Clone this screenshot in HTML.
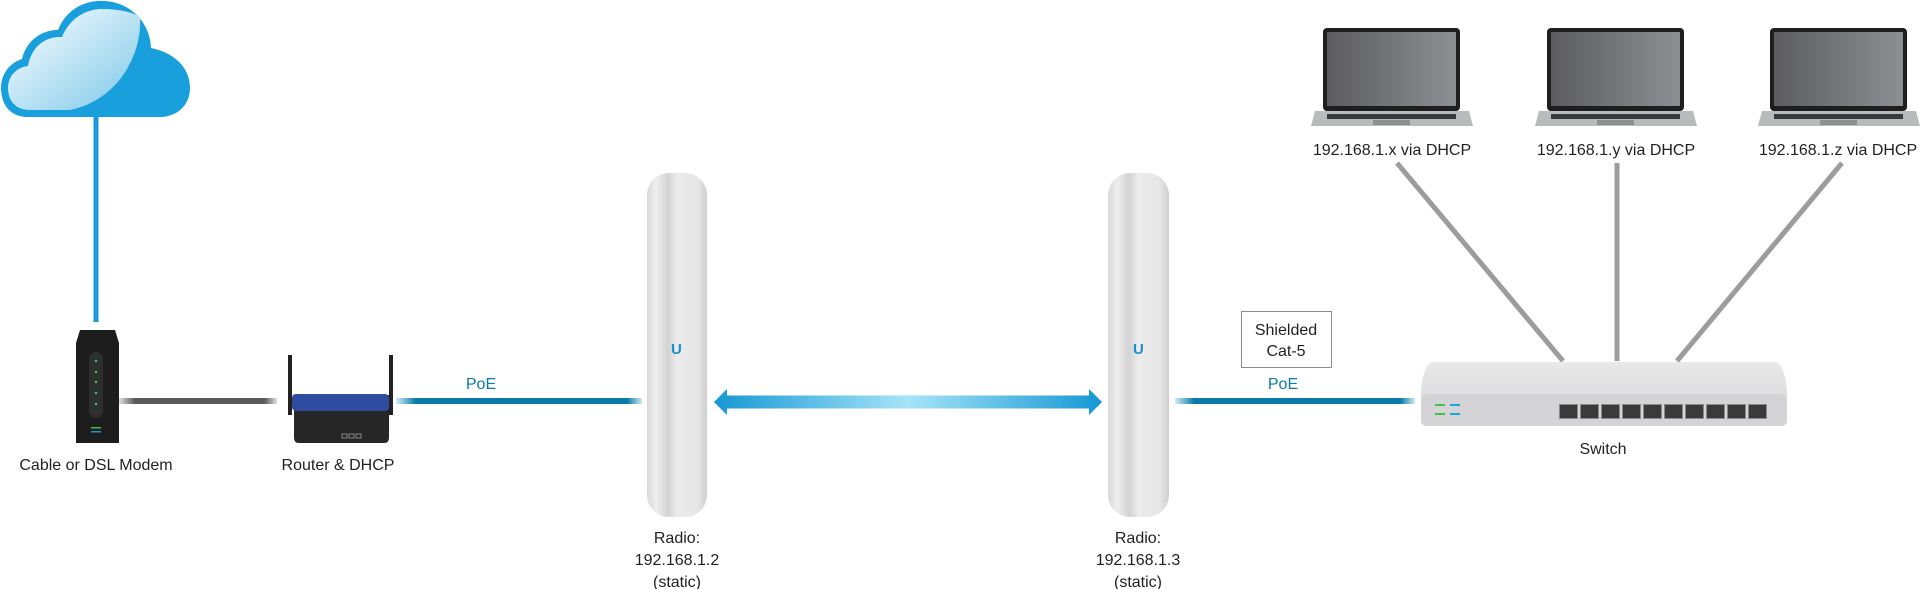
<!DOCTYPE html>
<html><head><meta charset="utf-8"><style>
html,body{margin:0;padding:0;background:#fff;}
svg{display:block;}
text{font-family:"Liberation Sans",sans-serif;font-size:16px;fill:#231f20;}
</style></head><body>
<svg width="1929" height="589" viewBox="0 0 1929 589" xmlns="http://www.w3.org/2000/svg">
<defs>
<linearGradient id="cloudg" x1="0" y1="0" x2="1" y2="1"><stop offset="0" stop-color="#ffffff"/><stop offset="1" stop-color="#7cc8ea"/></linearGradient>
<linearGradient id="arrow" x1="0" x2="1"><stop offset="0" stop-color="#1597d4"/><stop offset="0.5" stop-color="#a6e4f8"/><stop offset="1" stop-color="#1597d4"/></linearGradient>
<linearGradient id="radio" x1="0" x2="1"><stop offset="0" stop-color="#d8d8d8"/><stop offset="0.15" stop-color="#eeeeee"/><stop offset="0.35" stop-color="#d3d3d3"/><stop offset="0.5" stop-color="#ececec"/><stop offset="0.85" stop-color="#e6e6e6"/><stop offset="1" stop-color="#cfcfcf"/></linearGradient>
<linearGradient id="screen" x1="0" x2="1"><stop offset="0" stop-color="#5c5c5e"/><stop offset="1" stop-color="#8c8f92"/></linearGradient>
<linearGradient id="poeL" x1="0" x2="1"><stop offset="0" stop-color="#d6edf5"/><stop offset="0.08" stop-color="#0a7aa8"/><stop offset="0.94" stop-color="#0a7aa8"/><stop offset="1" stop-color="#cfe9f3"/></linearGradient>
<linearGradient id="grayL" x1="0" x2="1"><stop offset="0" stop-color="#e0e0e0"/><stop offset="0.1" stop-color="#5a5a5a"/><stop offset="0.92" stop-color="#5a5a5a"/><stop offset="1" stop-color="#e0e0e0"/></linearGradient>
<linearGradient id="sw" x1="0" y1="0" x2="0" y2="1"><stop offset="0" stop-color="#e9e9ea"/><stop offset="1" stop-color="#d4d4d6"/></linearGradient>
</defs>

<!-- cloud -->
<line x1="96" y1="117" x2="96" y2="322" stroke="#1a9ad8" stroke-width="5"/>
<path d="M28,117 C8,117 1,102 1,88 C1,72 12,62 22,59 C26,42 40,30 58,30 C66,10 84,0 104,1 C130,2 150,22 151,48 C172,52 190,66 190,88 C190,106 176,117 160,117 Z" fill="#19a0dc"/>
<path d="M30,110 C15,110 8,100 8,88 C8,75 18,67 28,66 C31,48 44,36 62,37 C70,18 86,9 102,9 C116,9 136,12 140,18 C142,55 118,100 70,110 Z" fill="url(#cloudg)"/>

<!-- modem -->
<rect x="119" y="398" width="158" height="6" fill="url(#grayL)"/>
<path d="M80,330 L115,330 L119,343 L119,443 L76,443 L76,343 Z" fill="#1d1d1d"/>
<rect x="89" y="352" width="14" height="66" rx="7" fill="#2e2e2e"/>
<g fill="#3ec04a"><circle cx="96" cy="361" r="1.3"/><circle cx="96" cy="372" r="1.3"/><circle cx="96" cy="382" r="1.3"/><circle cx="96" cy="393" r="1.3"/><circle cx="96" cy="404" r="1.3"/></g>
<rect x="91" y="427" width="10" height="1.5" fill="#3ec04a"/><rect x="91" y="431" width="10" height="1.5" fill="#1a9ad8"/>
<text x="96" y="470" text-anchor="middle">Cable or DSL Modem</text>

<!-- router -->
<rect x="396" y="398" width="246" height="6" fill="url(#poeL)"/>
<rect x="288" y="355" width="4" height="60" fill="#222"/><rect x="389" y="355" width="4" height="60" fill="#222"/>
<path d="M294,395 L389,395 L389,438 Q389,443 384,443 L299,443 Q294,443 294,438 Z" fill="#262626"/>
<rect x="292" y="394" width="97" height="17" rx="4" fill="#2f4ca0"/>
<g fill="none" stroke="#888" stroke-width="1"><rect x="342" y="434" width="5" height="4"/><rect x="349" y="434" width="5" height="4"/><rect x="356" y="434" width="5" height="4"/></g>
<text x="338" y="470" text-anchor="middle">Router &amp; DHCP</text>
<text x="481" y="389" text-anchor="middle" style="fill:#0a7aa8">PoE</text>

<!-- radios -->
<rect x="647" y="173" width="60" height="344" rx="22" fill="url(#radio)"/>
<text x="671" y="354" style="font-size:15px;font-weight:bold;fill:#1a8fd0">U</text>
<rect x="1108" y="173" width="61" height="344" rx="22" fill="url(#radio)"/>
<text x="1133" y="354" style="font-size:15px;font-weight:bold;fill:#1a8fd0">U</text>
<g text-anchor="middle">
<text x="677" y="543">Radio:</text><text x="677" y="565">192.168.1.2</text><text x="677" y="587">(static)</text>
<text x="1138" y="543">Radio:</text><text x="1138" y="565">192.168.1.3</text><text x="1138" y="587">(static)</text>
</g>

<!-- arrow -->
<path d="M714,402 L727,389 L727,395.5 L1089,395.5 L1089,389 L1102,402 L1089,415 L1089,408.5 L727,408.5 L727,415 Z" fill="url(#arrow)"/>

<!-- right PoE -->
<rect x="1175" y="398" width="240" height="6" fill="url(#poeL)"/>
<rect x="1241.5" y="311.5" width="90" height="56" fill="#fff" stroke="#8a8a8a" stroke-width="1"/>
<text x="1286" y="335" text-anchor="middle">Shielded</text>
<text x="1286" y="356" text-anchor="middle">Cat-5</text>
<text x="1283" y="389" text-anchor="middle" style="fill:#0a7aa8">PoE</text>

<!-- laptop lines -->
<g stroke="#9c9c9c" stroke-width="5">
<line x1="1397" y1="163" x2="1563" y2="361"/>
<line x1="1617" y1="163" x2="1617" y2="361"/>
<line x1="1842" y1="163" x2="1677" y2="361"/>
</g>

<!-- switch -->
<path d="M1432,362 L1776,362 Q1786,366 1787,395 L1787,420 Q1787,426 1781,426 L1427,426 Q1421,426 1421,420 L1421,395 Q1422,366 1432,362 Z" fill="url(#sw)"/>
<rect x="1421" y="394" width="366" height="32" rx="6" fill="#d4d4d6"/>
<rect x="1435" y="404" width="10" height="2" fill="#3ec04a"/><rect x="1435" y="413" width="10" height="2" fill="#3ec04a"/>
<rect x="1450" y="404" width="10" height="2" fill="#1aa6e0"/><rect x="1450" y="413" width="10" height="2" fill="#1aa6e0"/>
<g fill="#3a3a3a" stroke="#8a8a8a" stroke-width="1">
<rect x="1559.5" y="404.5" width="18" height="14"/><rect x="1580.5" y="404.5" width="18" height="14"/><rect x="1601.5" y="404.5" width="18" height="14"/><rect x="1622.5" y="404.5" width="18" height="14"/><rect x="1643.5" y="404.5" width="18" height="14"/><rect x="1664.5" y="404.5" width="18" height="14"/><rect x="1685.5" y="404.5" width="18" height="14"/><rect x="1706.5" y="404.5" width="18" height="14"/><rect x="1727.5" y="404.5" width="18" height="14"/><rect x="1748.5" y="404.5" width="18" height="14"/>
</g>
<text x="1603" y="454" text-anchor="middle">Switch</text>

<!-- laptops -->
<g id="lp">
<rect x="1323" y="28" width="137" height="83" rx="4" fill="#1e1e1e"/>
<rect x="1327" y="32" width="129" height="74" fill="url(#screen)"/>
<path d="M1315,111 L1469,111 L1473,126 L1311,126 Z" fill="#b9babc"/>
<rect x="1327" y="114" width="129" height="5" fill="#3a3a3a"/>
<rect x="1373" y="120" width="37" height="5" fill="#8f9092"/>
</g>
<use href="#lp" x="224"/>
<use href="#lp" x="447"/>
<text x="1392" y="155" text-anchor="middle">192.168.1.x via DHCP</text>
<text x="1616" y="155" text-anchor="middle">192.168.1.y via DHCP</text>
<text x="1838" y="155" text-anchor="middle">192.168.1.z via DHCP</text>
</svg>
</body></html>
